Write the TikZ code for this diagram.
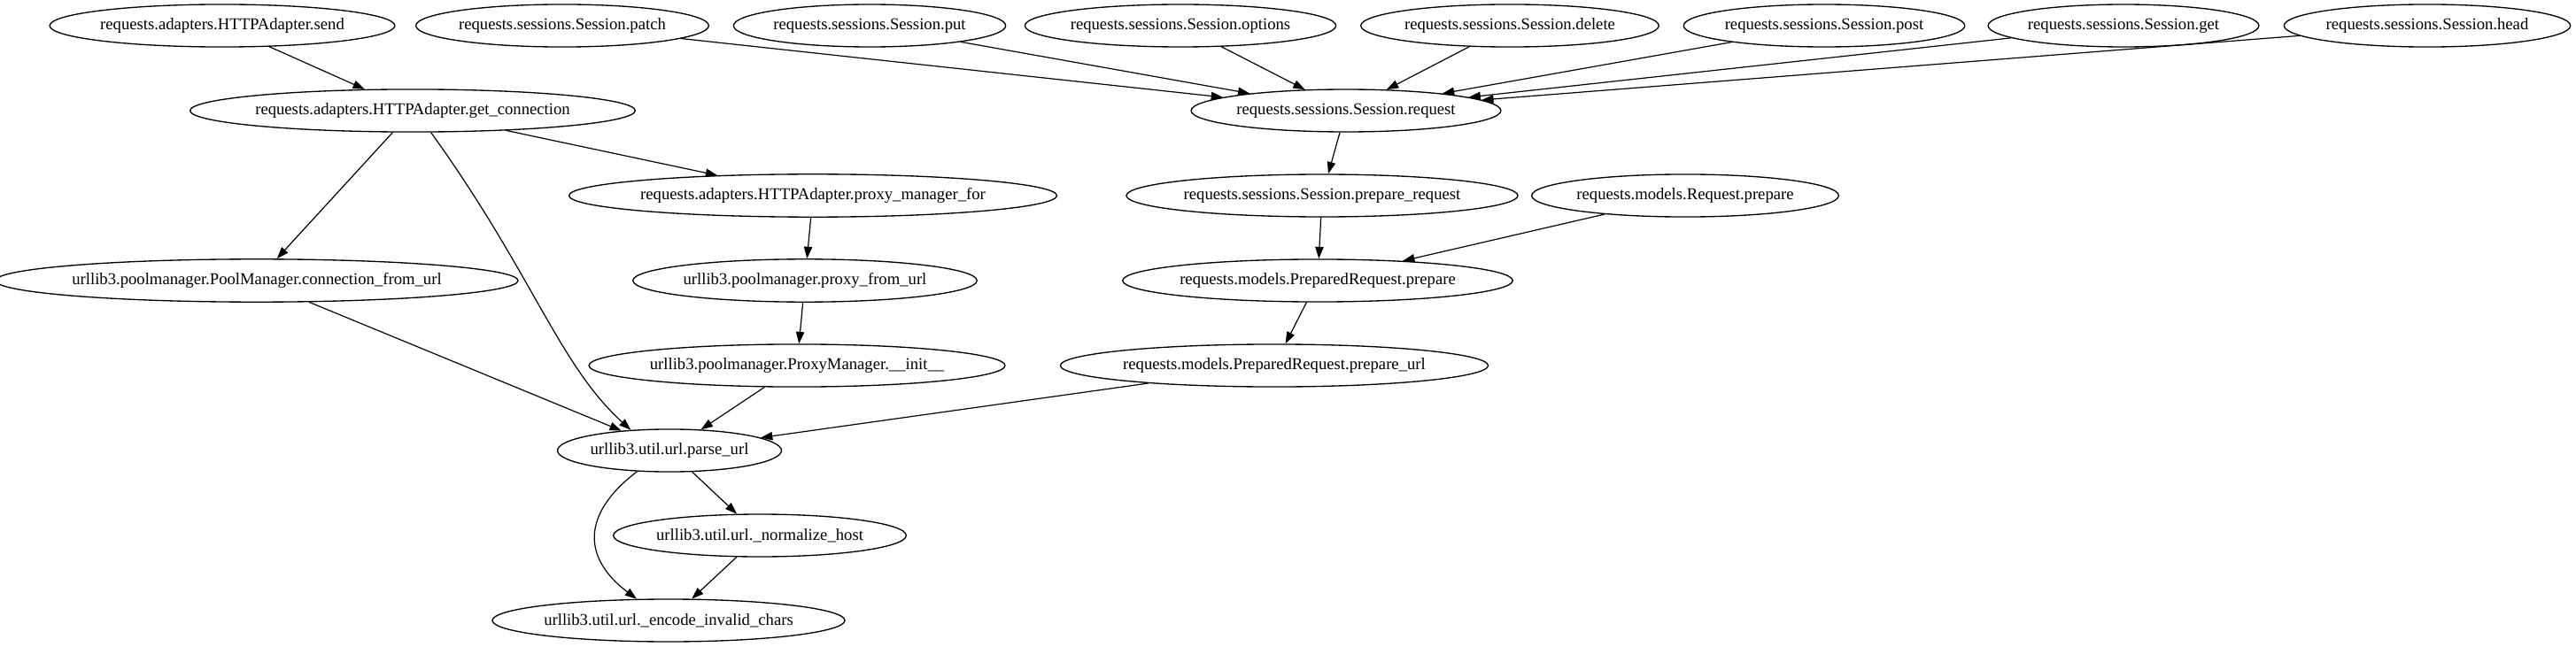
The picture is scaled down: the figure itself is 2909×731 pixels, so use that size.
\documentclass[tikz,border=0pt]{standalone}
\usepackage{fontspec}
\setmainfont{Liberation Serif}
\usepackage{tikz}
\usetikzlibrary{shapes,arrows.meta}

\begin{document}
\begin{tikzpicture}[
        x=0.75pt, y=-0.75pt,
        every node/.style={draw, ellipse, line width=1pt, inner xsep=0pt, inner ysep=6.4pt, minimum height=36pt, font=\fontsize{14}{16}\selectfont},
        >={Triangle[length=10pt, width=7pt]},
        every path/.style={line width=0.9pt},
        ->
        ]
    \useasboundingbox (0,0) rectangle (2909,731);
    % top row
    \node (send)    at (251,29)  {requests.adapters.HTTPAdapter.send};
    \node (patch)   at (635,29)  {requests.sessions.Session.patch};
    \node (put)     at (982,29)  {requests.sessions.Session.put};
    \node (options) at (1333,29) {requests.sessions.Session.options};
    \node (delete)  at (1705,29) {requests.sessions.Session.delete};
    \node (post)    at (2060,29) {requests.sessions.Session.post};
    \node (get)     at (2398,29) {requests.sessions.Session.get};
    \node (head)    at (2741,29) {requests.sessions.Session.head};
    % second row
    \node (getconn) at (466,125)  {requests.adapters.HTTPAdapter.get\_connection};
    \node (request) at (1520,125) {requests.sessions.Session.request};
    % third row
    \node (pmfor)   at (918,221)  {requests.adapters.HTTPAdapter.proxy\_manager\_for};
    \node (prepreq) at (1493,221) {requests.sessions.Session.prepare\_request};
    \node (reqprep) at (1903,221) {requests.models.Request.prepare};
    % fourth row
    \node (connurl)  at (290,317)  {urllib3.poolmanager.PoolManager.connection\_from\_url};
    \node (proxyurl) at (909,317)  {urllib3.poolmanager.proxy\_from\_url};
    \node (prepprep) at (1488,317) {requests.models.PreparedRequest.prepare};
    % fifth row
    \node (pminit)  at (900,413)  {urllib3.poolmanager.ProxyManager.\_\_init\_\_};
    \node (prepurl) at (1439,413) {requests.models.PreparedRequest.prepare\_url};
    % bottom
    \node (parseurl) at (756,509) {urllib3.util.url.parse\_url};
    \node (normhost) at (858,605) {urllib3.util.url.\_normalize\_host};
    \node (encchars) at (755,701) {urllib3.util.url.\_encode\_invalid\_chars};

    \draw (send) -- (getconn);
    \foreach \m in {patch,put,options,delete,post,get,head}
        \draw (\m) -- (request);
    \draw (getconn) -- (connurl);
    \draw (getconn) -- (pmfor);
    \draw (getconn.-50) .. controls (602,310) and (631,412) .. (parseurl.152);
    \draw (pmfor) -- (proxyurl);
    \draw (proxyurl) -- (pminit);
    \draw (connurl) -- (parseurl);
    \draw (pminit) -- (parseurl);
    \draw (request) -- (prepreq);
    \draw (prepreq) -- (prepprep);
    \draw (reqprep) -- (prepprep);
    \draw (prepprep) -- (prepurl);
    \draw (prepurl) -- (parseurl);
    \draw (parseurl) -- (normhost);
    \draw (parseurl.213) .. controls (657,580) and (657,630) .. (encchars.146);
    \draw (normhost) -- (encchars);
\end{tikzpicture}
\end{document}
